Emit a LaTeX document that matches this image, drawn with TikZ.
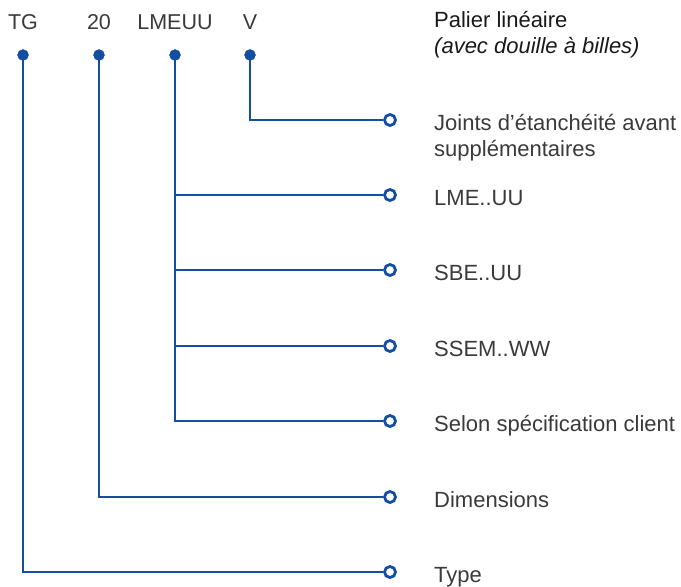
\documentclass[tikz,border=0pt]{standalone}
\usepackage{fontspec}
\usepackage{xcolor}
\setmainfont{Liberation Sans}
\usetikzlibrary{positioning, calc}

\definecolor{lineblue}{RGB}{20,78,160}
\definecolor{textgray}{RGB}{58,58,58}

\tikzset{
    code/.style={font=\fontsize{21.5}{26}\selectfont, text=textgray, inner sep=0pt, anchor=base},
    desc/.style={font=\fontsize{22}{26}\selectfont, text=textgray, inner sep=0pt, anchor=base west, align=left},
    endpt/.style={circle, draw=lineblue, fill=white, line width=2.8pt, minimum size=11pt, inner sep=0pt},
    link/.style={draw=lineblue, line width=2.8pt},
}

\begin{document}
\begin{tikzpicture}[x=1pt, y=-1pt]
    \useasboundingbox (0,0) rectangle (681,587);

    % designation
    \node[code] (TG) at (23,29) {TG};
    \node[code] (size) at (99,29) {20};
    \node[code] (seal) at (175,29) {LMEUU};
    \node[code] (front) at (250,29) {V};

    \coordinate (TGdot) at (23,55);
    \coordinate (sizedot) at (99,55);
    \coordinate (sealdot) at (175,55);
    \coordinate (frontdot) at (250,55);

    % end points
    \node[endpt] (joints) at (390,120) {};
    \node[endpt] (lme) at (390,195) {};
    \node[endpt] (sbe) at (390,270) {};
    \node[endpt] (ssem) at (390,346) {};
    \node[endpt] (client) at (390,421) {};
    \node[endpt] (dims) at (390,497) {};
    \node[endpt] (type) at (390,572) {};

    \draw[link] (frontdot) |- (joints);
    \draw[link] (sealdot) |- (client);
    \draw[link] (sealdot |- lme) -- (lme);
    \draw[link] (sealdot |- sbe) -- (sbe);
    \draw[link] (sealdot |- ssem) -- (ssem);
    \draw[link] (sizedot) |- (dims);
    \draw[link] (TGdot) |- (type);

    \foreach \d in {TGdot, sizedot, sealdot, frontdot}
        \filldraw[lineblue] (\d) circle (5.5pt);

    % texts (base = last line)
    \node[desc, text=black!90] (title) at (434,53) {Palier linéaire\\\textit{(avec douille à billes)}};
    \node[desc] (jointslbl) at (434,156) {Joints d’étanchéité avant\\supplémentaires};
    \node[desc] (lmelbl) at (434,205) {LME..UU};
    \node[desc] (sbelbl) at (434,280) {SBE..UU};
    \node[desc] (ssemlbl) at (434,356) {SSEM..WW};
    \node[desc] (clientlbl) at (434,431) {Selon spécification client};
    \node[desc] (dimslbl) at (434,507) {Dimensions};
    \node[desc] (typelbl) at (434,582) {Type};
\end{tikzpicture}
\end{document}
